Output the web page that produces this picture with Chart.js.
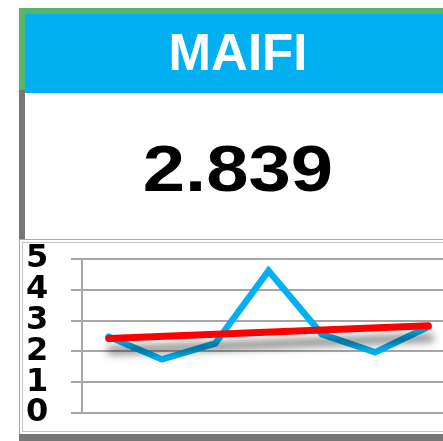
<!DOCTYPE html>
<html>
<head>
<meta charset="utf-8">
<script src="https://cdn.jsdelivr.net/npm/chart.js@4/dist/chart.umd.min.js"></script>
<style>
  html, body { margin: 0; padding: 0; width: 443px; height: 441px; overflow: hidden; background: #fff; }
  .abs { position: absolute; }
  #title { left: 25px; top: 14px; width: 418px; height: 79px; background: #00B0F0; }
  #titleText { left: 0; width: 476px; top: 27px; font: bold 51px "Liberation Sans", Arial, sans-serif; line-height: 51px; color: #fff; text-align: center; }
  #valueText { left: 0; width: 476px; top: 136px; font: bold 65px "Liberation Sans", Arial, sans-serif; line-height: 65px; color: #000; text-align: center; transform: scaleX(1.17); transform-origin: 238px 0; }
  #chartWrap { left: 0; top: 0; width: 460px; height: 441px; }
</style>
</head>
<body>
<div class="abs" style="left:19px;top:8px;width:424px;height:6px;background:#55B76E;"></div>
<div class="abs" style="left:19px;top:8px;width:6px;height:82px;background:#55B76E;"></div>
<div class="abs" style="left:19px;top:90px;width:6px;height:149px;background:#767676;"></div>
<div class="abs" id="title"></div>
<div class="abs" id="titleText">MAIFI</div>
<div class="abs" id="valueText">2.839</div>
<div class="abs" style="left:19px;top:239px;width:440px;height:194px;border:1px solid #a8a8a8;border-right:none;"></div>
<div class="abs" style="left:22px;top:242px;width:440px;height:188px;border:1px solid #c4c4c4;border-right:none;"></div>
<div class="abs" style="left:19px;top:434px;width:424px;height:7px;background:#767676;"></div>
<div class="abs" id="chartWrap"><canvas id="c" width="460" height="441"></canvas></div>
<script>
const categories = ['1', '2', '3', '4', '5', '6', '7'];
const maifiValues = [2.48, 1.74, 2.26, 4.62, 2.56, 1.97, 2.80];
const trendValues = [2.42, null, null, null, null, null, 2.83];
const yTicks = [0, 1, 2, 3, 4, 5];

const shadowPlugin = {
  id: 'trendShadow',
  beforeDatasetDraw(chart, args) {
    if (chart.data.datasets[args.index].shadow) {
      const ctx = chart.ctx;
      ctx.save();
      ctx.shadowColor = 'rgba(0,0,0,0.55)';
      ctx.shadowBlur = 8;
      ctx.shadowOffsetX = 2;
      ctx.shadowOffsetY = 12;
    }
  },
  afterDatasetDraw(chart, args) {
    if (chart.data.datasets[args.index].shadow) {
      chart.ctx.restore();
    }
  }
};

new Chart(document.getElementById('c'), {
  type: 'line',
  data: {
    labels: categories,
    datasets: [
      {
        label: 'MAIFI',
        data: maifiValues,
        borderColor: '#00B0F0',
        borderWidth: 6.5,
        pointRadius: 0,
        tension: 0,
        borderCapStyle: 'round',
        borderJoinStyle: 'miter',
        order: 2
      },
      {
        label: 'Trend',
        data: trendValues,
        spanGaps: true,
        borderColor: '#FF0000',
        borderWidth: 7,
        pointRadius: 0,
        tension: 0,
        borderCapStyle: 'round',
        shadow: true,
        order: 1
      }
    ]
  },
  options: {
    responsive: false,
    animation: false,
    devicePixelRatio: 1,
    layout: { padding: { top: 259, bottom: 28, left: 26, right: 5 } },
    plugins: { legend: { display: false }, tooltip: { enabled: false } },
    scales: {
      x: { display: false, offset: true },
      y: {
        min: 0,
        max: 5,
        afterBuildTicks(scale) { scale.ticks = yTicks.map(v => ({ value: v })); },
        afterFit(scale) { scale.width = 56; },
        ticks: {
          autoSkip: false,
          padding: 2,
          crossAlign: 'far',
          color: '#000',
          font: { family: 'DejaVu Sans', weight: 'bold', size: 32, lineHeight: 1 }
        },
        grid: { color: '#a6a6a6', lineWidth: 2, tickLength: 11, drawTicks: true },
        border: { display: true, color: '#a6a6a6', width: 2 }
      }
    }
  },
  plugins: [shadowPlugin]
});
</script>
</body>
</html>
